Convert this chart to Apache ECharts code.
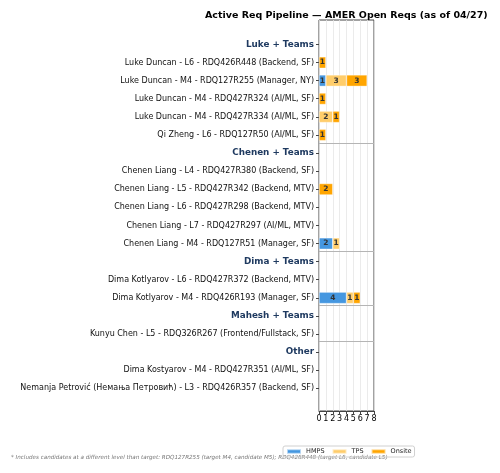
<!DOCTYPE html>
<html>
<head>
<meta charset="utf-8">
<script src="https://cdn.jsdelivr.net/npm/echarts@6/dist/echarts.min.js"></script>
<style>html,body{margin:0;padding:0;background:#fff}#c{width:500px;height:473px}</style>
</head>
<body>
<div id="c"></div>
<script>
const categories = [
  "Luke + Teams",
  "Luke Duncan - L6 - RDQ426R448 (Backend, SF)",
  "Luke Duncan - M4 - RDQ127R255 (Manager, NY)",
  "Luke Duncan - M4 - RDQ427R324 (AI/ML, SF)",
  "Luke Duncan - M4 - RDQ427R334 (AI/ML, SF)",
  "Qi Zheng - L6 - RDQ127R50 (AI/ML, SF)",
  "Chenen + Teams",
  "Chenen Liang - L4 - RDQ427R380 (Backend, SF)",
  "Chenen Liang - L5 - RDQ427R342 (Backend, MTV)",
  "Chenen Liang - L6 - RDQ427R298 (Backend, MTV)",
  "Chenen Liang - L7 - RDQ427R297 (AI/ML, MTV)",
  "Chenen Liang - M4 - RDQ127R51 (Manager, SF)",
  "Dima + Teams",
  "Dima Kotlyarov - L6 - RDQ427R372 (Backend, MTV)",
  "Dima Kotlyarov - M4 - RDQ426R193 (Manager, SF)",
  "Mahesh + Teams",
  "Kunyu Chen - L5 - RDQ326R267 (Frontend/Fullstack, SF)",
  "Other",
  "Dima Kostyarov - M4 - RDQ427R351 (AI/ML, SF)",
  "Nemanja Petrović (Немања Петровић) - L3 - RDQ426R357 (Backend, SF)"
];
const groupHeaders = ["Luke + Teams", "Chenen + Teams", "Dima + Teams", "Mahesh + Teams", "Other"];
const hmps   = [0, 0, 1, 0, 0, 0, 0, 0, 0, 0, 0, 2, 0, 0, 4, 0, 0, 0, 0, 0];
const tps    = [0, 0, 3, 0, 2, 0, 0, 0, 0, 0, 0, 1, 0, 0, 1, 0, 0, 0, 0, 0];
const onsite = [0, 1, 3, 1, 1, 1, 0, 0, 2, 0, 0, 0, 0, 0, 1, 0, 0, 0, 0, 0];
const xTicks = [0, 1, 2, 3, 4, 5, 6, 7, 8];
const separators = [5.5, 11.5, 14.5, 16.5];
const titleText = "Active Req Pipeline — AMER Open Reqs (as of 04/27)";
const footnote = "* Includes candidates at a different level than target: RDQ127R255 (target M4, candidate M5); RDQ426R448 (target L6, candidate L5)";

const FONT = "DejaVu Sans";
const n = categories.length;
const rowH = 18.1;
const plotTop = 20, plotBottom = 411, plotLeft = 319, plotW = 55;
const padRows = 1.35;
const bandTop = plotTop + (padRows - 0.5) * rowH;

const chart = echarts.init(document.getElementById('c'), null, {renderer: 'canvas'});
function mk(name, data, color) {
  return {
    name: name, type: 'bar', stack: 'total', xAxisIndex: 1, yAxisIndex: 1,
    barWidth: 11.5,
    data: data.map(v => v === 0 ? null : v),
    itemStyle: {color: color, borderColor: 'rgba(255,255,255,0.6)', borderWidth: 0.6},
    label: {show: true, position: 'inside', fontFamily: FONT, fontSize: 7.5, fontWeight: 'bold', color: '#333',
            formatter: p => p.value ? String(p.value) : ''}
  };
}
chart.setOption({
  animation: false,
  title: {text: titleText, left: 200, top: 6,
          textStyle: {fontFamily: FONT, fontSize: 9.5, fontWeight: 'bold', color: '#000'}},
  legend: {
    data: ['HMPS', 'TPS', 'Onsite'], left: 283, top: 446,
    itemWidth: 14, itemHeight: 4.5, itemGap: 7, padding: [2, 3, 2, 3],
    borderColor: '#d0d0d0', borderWidth: 1, borderRadius: 2,
    textStyle: {fontFamily: FONT, fontSize: 6.5, color: '#222'},
    icon: 'rect'
  },
  graphic: [{type: 'text', left: 11, top: 455,
    style: {text: footnote, fontFamily: FONT, fontSize: 5.6, fontStyle: 'italic', fill: '#777'}}],
  grid: [
    {left: plotLeft, top: plotTop, width: plotW, height: plotBottom - plotTop, show: true,
     borderColor: '#444', borderWidth: 1, containLabel: false},
    {left: plotLeft, top: bandTop, width: plotW, height: n * rowH, containLabel: false}
  ],
  xAxis: [
    {type: 'value', gridIndex: 0, min: xTicks[0], max: xTicks[xTicks.length - 1], interval: 1, position: 'bottom',
     axisLine: {show: true, onZero: false, lineStyle: {color: '#444'}},
     axisTick: {show: true, length: 3, lineStyle: {color: '#444'}},
     axisLabel: {fontFamily: FONT, fontSize: 8, color: '#000', margin: 4},
     splitLine: {show: true, lineStyle: {color: '#e6e6e6', width: 0.8}}},
    {type: 'value', gridIndex: 1, min: xTicks[0], max: xTicks[xTicks.length - 1], show: false}
  ],
  yAxis: [
    {type: 'value', gridIndex: 0, inverse: true, min: -padRows, max: n - 1 + padRows, show: false},
    {type: 'category', gridIndex: 1, inverse: true, data: categories,
     axisLine: {show: false},
     axisTick: {show: true, length: 3, alignWithLabel: true, lineStyle: {color: '#444'}},
     axisLabel: {margin: 5, interval: 0,
       formatter: v => groupHeaders.includes(v) ? '{h|' + v + '}' : '{n|' + v + '}',
       rich: {
         h: {fontFamily: FONT, fontSize: 8.8, fontWeight: 'bold', color: '#1f3a60'},
         n: {fontFamily: FONT, fontSize: 8, color: '#111'}
       }},
     splitLine: {show: false}}
  ],
  series: [
    {type: 'line', xAxisIndex: 0, yAxisIndex: 0, data: [], silent: true,
     markLine: {silent: true, symbol: ['none', 'none'], label: {show: false},
       lineStyle: {color: '#b5b5b5', width: 1, type: 'solid'},
       data: separators.map(s => ({yAxis: s}))}},
    mk('HMPS', hmps, '#4597e0'),
    mk('TPS', tps, '#ffcd6b'),
    mk('Onsite', onsite, '#ffa500')
  ]
});
</script>
</body>
</html>
